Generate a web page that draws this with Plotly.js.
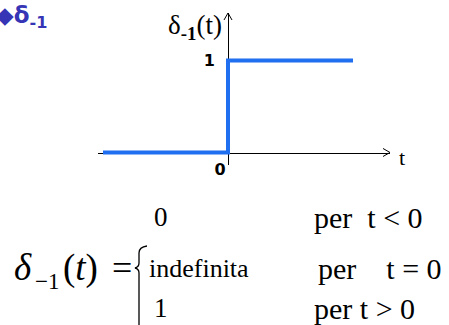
<!DOCTYPE html>
<html><head><meta charset="utf-8">
<script src="https://cdn.plot.ly/plotly-3.0.1.min.js"></script>
<style>html,body{margin:0;padding:0;background:#fff}#c{width:449px;height:325px}</style>
</head><body><div id="c"></div>
<script>
// step function delta_-1(t)
var tValues = [-5, 0, 0, 5];
var yValues = [0, 0, 1, 1];
var xTickVals = [0];
var xTickText = ['0'];
var yTickVals = [1];
var yTickText = ['1'];

var serif = 'Liberation Serif';
function px2x(p){return (p-98)/292;}
function px2y(p){return (165-p)/152;}

var trace = {x: tValues, y: yValues, mode: 'lines', line: {color: '#1f6ff0', width: 4}, hoverinfo: 'skip', cliponaxis: false};

// brace path (paper coords)
var bp = 'M '+px2x(147)+','+px2y(246)+' Q '+px2x(139)+','+px2y(247)+' '+px2x(139)+','+px2y(253)+
  ' L '+px2x(139)+','+px2y(263)+' Q '+px2x(139)+','+px2y(267)+' '+px2x(135)+','+px2y(268)+
  ' Q '+px2x(139)+','+px2y(269)+' '+px2x(139)+','+px2y(273)+' L '+px2x(139)+','+px2y(330);

function txt(t, px, py, anchor, size, fam, extra){
  var a = {xref: 'paper', yref: 'paper', x: px2x(px), y: px2y(py), xanchor: anchor, yanchor: 'middle', showarrow: false,
    text: t, font: {family: fam || serif, size: size, color: '#000'}};
  if (extra) for (var k in extra) a.font[k] = extra[k];
  return a;
}

var layout = {
  width: 449, height: 325,
  margin: {l: 98, r: 59, t: 13, b: 160},
  paper_bgcolor: '#fff', plot_bgcolor: '#fff',
  showlegend: false,
  xaxis: {range: [-5.2, 6.48], anchor: 'free', position: 0.0822, showline: true, linecolor: '#000', linewidth: 1,
    showgrid: false, zeroline: false, ticks: '', tickvals: xTickVals, ticktext: xTickText, layer: 'below traces',
    tickfont: {family: 'DejaVu Sans', size: 16, color: '#000', weight: 'bold'}, ticklabelshift: -8, ticklabelstandoff: 2, fixedrange: true},
  yaxis: {range: [-0.136, 1.516], anchor: 'free', position: 0.4452, showline: true, linecolor: '#000', linewidth: 1,
    showgrid: false, zeroline: false, ticks: '', tickvals: yTickVals, ticktext: yTickText, layer: 'below traces',
    tickfont: {family: 'DejaVu Sans', size: 16, color: '#000', weight: 'bold'}, ticklabelstandoff: 10, fixedrange: true},
  shapes: [
    {type: 'line', xref: 'x', yref: 'y', x0: 6.48, y0: 0, x1: 6.2, y1: 0.0435, line: {color: '#000', width: 1}},
    {type: 'line', xref: 'x', yref: 'y', x0: 6.48, y0: 0, x1: 6.2, y1: -0.0435, line: {color: '#000', width: 1}},
    {type: 'line', xref: 'x', yref: 'y', x0: 0, y0: 1.516, x1: -0.16, y1: 1.44, line: {color: '#000', width: 1}},
    {type: 'line', xref: 'x', yref: 'y', x0: 0, y0: 1.516, x1: 0.16, y1: 1.44, line: {color: '#000', width: 1}},
    {type: 'path', xref: 'paper', yref: 'paper', path: bp, line: {color: '#000', width: 1.3}}
  ],
  annotations: [
    txt('◆δ<sub>-1</sub>', -6, 17, 'left', 23, 'DejaVu Sans', {color: '#3535b5', weight: 'bold'}),
    txt('δ<sub><b>-1</b></sub>(t)', 224, 27, 'right', 27),
    txt('t', 402, 157, 'center', 22),
    txt('<i>δ</i>', 12, 267, 'left', 37),
    txt('−1', 33, 281, 'left', 23),
    txt('(<i>t</i>)', 61, 268, 'left', 37),
    txt('=', 110, 268, 'left', 36),
    txt('0', 161, 217, 'center', 27),
    txt('indefinita', 147, 268, 'left', 26),
    txt('1', 161, 308, 'center', 27),
    txt('per  t &lt; 0', 312, 217, 'left', 30),
    txt('per    t = 0', 316, 268, 'left', 30),
    txt('per t &gt; 0', 312, 308, 'left', 30)
  ]
};
Plotly.newPlot('c', [trace], layout, {displayModeBar: false, staticPlot: true});
</script></body></html>
